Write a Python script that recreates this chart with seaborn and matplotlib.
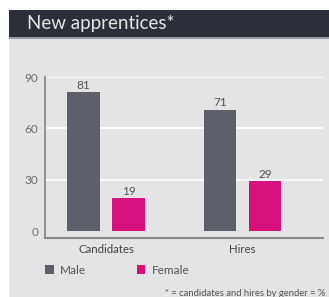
import matplotlib
matplotlib.use("Agg")
import matplotlib.pyplot as plt
import seaborn as sns
import pandas as pd
from matplotlib.patches import Rectangle, Patch

categories = ["Candidates", "Hires"]
genders = ["Male", "Female"]
male_values = [81, 71]
female_values = [19, 29]
y_ticks = [0, 30, 60, 90]
title = "New apprentices*"
footnote = "* = candidates and hires by gender = %"

colors = {"Male": "#5e5f68", "Female": "#d7127f"}

df = pd.DataFrame({
    "category": categories * 2,
    "gender": ["Male"] * len(categories) + ["Female"] * len(categories),
    "value": male_values + female_values,
})

sns.set_style("white")
plt.rcParams["font.family"] = ["Lato", "DejaVu Sans"]

W, H = 329, 297
fig = plt.figure(figsize=(W / 100, H / 100), dpi=100)
fig.patch.set_facecolor("white")

def px(x, y, w, h):
    return (x / W, 1 - (y + h) / H, w / W, h / H)

# background panels
bx, by, bw, bh = px(9, 37, 320, 260)
fig.patches.append(Rectangle((bx, by), bw, bh, transform=fig.transFigure,
                             facecolor="#e4e4e4", edgecolor="none", zorder=-10))
tx, ty, tw, th = px(9, 10, 320, 27)
fig.patches.append(Rectangle((tx, ty), tw, th, transform=fig.transFigure,
                             facecolor="#2d2f38", edgecolor="none", zorder=-10))
fig.patches.append(Rectangle((tx, ty - 2 / H), tw, 2 / H, transform=fig.transFigure,
                             facecolor="#9a9ca3", edgecolor="none", zorder=-10))
fig.text(27 / W, 1 - 23.5 / H, title, color="#e6e6e6", fontsize=13.5,
         va="center", ha="left")

ax = fig.add_axes(px(45, 77, 278, 161))
ax.set_zorder(1)
ax.set_facecolor("none")
sns.barplot(data=df, x="category", y="value", hue="gender", order=categories,
            hue_order=genders, palette=colors, width=0.66, gap=0.27,
            saturation=1, ax=ax, legend=False, zorder=3, linewidth=0)

ax.set_ylim(-7 * 90 / 154, 90)
ax.set_xlim(-0.447, 1.59)
ax.set_yticks(y_ticks)
ax.set_yticklabels([str(t) for t in y_ticks], color="#6a6a6a", fontsize=8.5)
ax.tick_params(axis="both", length=0, pad=5)
ax.set_xticks(range(len(categories)))
ax.set_xticklabels(categories, color="#444444", fontsize=8.3)
ax.tick_params(axis="x", pad=4)
ax.set_xlabel("")
ax.set_ylabel("")
ax.yaxis.grid(True, color="white", linewidth=1.2, zorder=0)
ax.set_axisbelow(True)
ax.get_ygridlines()[0].set_visible(False)

for s in ["top", "right"]:
    ax.spines[s].set_visible(False)
ax.spines["left"].set_color("#8a8a8a")
ax.spines["left"].set_linewidth(1.3)
ax.spines["bottom"].set_color("#8a8a8a")
ax.spines["bottom"].set_linewidth(1.5)

for cont in ax.containers:
    ax.bar_label(cont, fmt="%d", padding=1, color="#555555", fontsize=8.5)

handles = [Patch(facecolor=colors[g], edgecolor="none") for g in genders]
fig.legend(handles, genders, loc="center left",
           bbox_to_anchor=(45 / W, 1 - 270 / H), ncol=2, frameon=False,
           borderpad=0, borderaxespad=0,
           handlelength=0.75, handleheight=0.75, handletextpad=0.5,
           columnspacing=4.3, fontsize=8.5, labelcolor="#555555")

fig.text(325 / W, 1 - 294 / H, footnote, color="#555555", fontsize=6.8,
         ha="right", va="center")

fig.savefig("out.png", dpi=100)
